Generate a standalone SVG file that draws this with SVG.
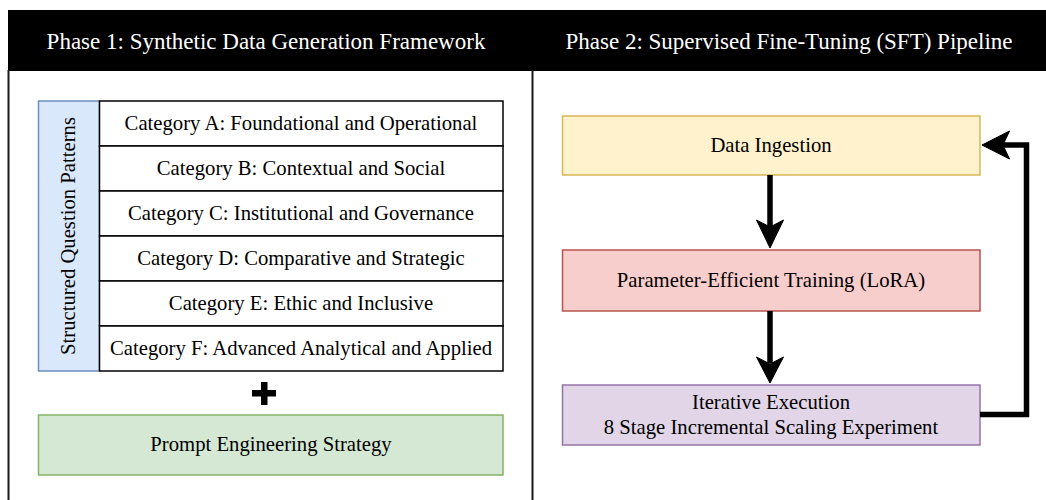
<svg xmlns="http://www.w3.org/2000/svg" width="1046" height="500" viewBox="0 0 1046 500" font-family="'Liberation Serif', 'Times New Roman', Tinos, 'DejaVu Serif', serif">
<style>
  text { font-family: 'Liberation Serif', 'Times New Roman', Tinos, 'DejaVu Serif', serif; fill: #000; }
  .hdr { font-size: 23px; fill: #fff; text-anchor: middle; }
  .lbl { font-size: 20.7px; text-anchor: middle; }
  .cell { fill: #ffffff; stroke: #000000; stroke-width: 1.5; }
  .frame { stroke: #1a1a1a; stroke-width: 2; fill: none; }
  .conn { stroke: #000; stroke-width: 5.5; fill: none; }
  .head { fill: #000; stroke: #000; stroke-width: 1; stroke-linejoin: miter; }
</style>
<rect x="0" y="0" width="1046" height="500" fill="#ffffff"/>
<g id="frame">
  <rect x="8" y="10" width="1040" height="61" fill="#000000"/>
  <line class="frame" x1="8.5" y1="70" x2="8.5" y2="500"/>
  <line class="frame" x1="532.5" y1="70" x2="532.5" y2="500"/>
  <text class="hdr" x="266" y="49">Phase 1: Synthetic Data Generation Framework</text>
  <text class="hdr" x="789" y="49">Phase 2: Supervised Fine-Tuning (SFT) Pipeline</text>
</g>
<g id="structured-question-patterns">
  <rect x="38.5" y="101" width="61" height="270" fill="#dae8fc" stroke="#6c8ebf" stroke-width="1.5"/>
  <text class="lbl" transform="translate(75,236) rotate(-90)" x="0" y="0">Structured Question Patterns</text>
</g>
<g id="category-a">
  <rect class="cell" x="99.5" y="101" width="403.5" height="45"/>
  <text class="lbl" x="301" y="130">Category A: Foundational and Operational</text>
</g>
<g id="category-b">
  <rect class="cell" x="99.5" y="146" width="403.5" height="45"/>
  <text class="lbl" x="301" y="175">Category B: Contextual and Social</text>
</g>
<g id="category-c">
  <rect class="cell" x="99.5" y="191" width="403.5" height="45"/>
  <text class="lbl" x="301" y="220">Category C: Institutional and Governance</text>
</g>
<g id="category-d">
  <rect class="cell" x="99.5" y="236" width="403.5" height="45"/>
  <text class="lbl" x="301" y="265">Category D: Comparative and Strategic</text>
</g>
<g id="category-e">
  <rect class="cell" x="99.5" y="281" width="403.5" height="45"/>
  <text class="lbl" x="301" y="310">Category E: Ethic and Inclusive</text>
</g>
<g id="category-f">
  <rect class="cell" x="99.5" y="326" width="403.5" height="45"/>
  <text class="lbl" x="301" y="355">Category F: Advanced Analytical and Applied</text>
</g>
<g id="plus">
  <rect x="252" y="390" width="24" height="6.5" fill="#000"/>
  <rect x="261" y="382" width="6.5" height="23" fill="#000"/>
</g>
<g id="prompt-engineering">
  <rect x="38.5" y="415" width="464.5" height="60" fill="#d5e8d4" stroke="#82b366" stroke-width="1.5"/>
  <text class="lbl" x="271" y="451">Prompt Engineering Strategy</text>
</g>
<g id="data-ingestion">
  <rect x="562.5" y="116" width="417.5" height="59" fill="#fff2cc" stroke="#d6b656" stroke-width="1.5"/>
  <text class="lbl" x="771" y="152">Data Ingestion</text>
</g>
<g id="lora-training">
  <rect x="562.5" y="250" width="417.5" height="61" fill="#f8cecc" stroke="#b85450" stroke-width="1.5"/>
  <text class="lbl" x="771" y="287">Parameter-Efficient Training (LoRA)</text>
</g>
<g id="iterative-execution">
  <rect x="562.5" y="385" width="417.5" height="60" fill="#e1d5e7" stroke="#9673a6" stroke-width="1.5"/>
  <text class="lbl" x="771" y="409">Iterative Execution</text>
  <text class="lbl" x="771" y="434">8 Stage Incremental Scaling Experiment</text>
</g>
<g id="connectors">
  <line class="conn" x1="770" y1="175" x2="770" y2="228"/>
  <polygon class="head" points="770,248 756.5,220 770,227 783.5,220"/>
  <line class="conn" x1="770" y1="311" x2="770" y2="363"/>
  <polygon class="head" points="770,383 756.5,357 770,364 783.5,357"/>
  <polyline class="conn" points="980,414.5 1026.5,414.5 1026.5,145 1003,145"/>
  <polygon class="head" points="982,145 1009.5,131 1003,145 1009.5,159"/>
</g>
</svg>
